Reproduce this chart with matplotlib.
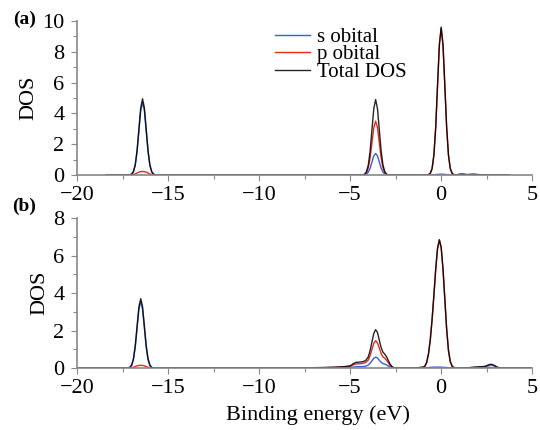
import numpy as np
import matplotlib
matplotlib.use('Agg')
import matplotlib.pyplot as plt
from matplotlib.ticker import MultipleLocator

plt.rcParams['font.family'] = ['Liberation Serif', 'DejaVu Serif']
plt.rcParams['mathtext.fontset'] = 'stix'

# ---- panel (a) ----
energy_a = [-18.4, -17.2,
            -17.1, -17.0, -16.9, -16.8, -16.7, -16.6, -16.5, -16.4, -16.3, -16.2, -16.1, -16.0, -15.9, -15.8, -15.7,
            -15.5, -4.5,
            -4.3, -4.2, -4.1, -4.0, -3.9, -3.8, -3.7, -3.6, -3.5, -3.4, -3.3, -3.2, -3.1, -3.0, -2.9,
            -2.7, -0.9,
            -0.7, -0.6, -0.5, -0.4, -0.3, -0.2, -0.1, 0.0, 0.1, 0.2, 0.3, 0.4, 0.5, 0.6, 0.7,
            0.85, 1.0, 1.2, 1.4, 1.6, 1.8, 2.0, 2.3, 3.75]
total_a = [0, 0,
           0.01, 0.06, 0.22, 0.67, 1.61, 3.0, 4.37, 4.95, 4.37, 3.0, 1.61, 0.67, 0.22, 0.06, 0.01,
           0, 0,
           0.01, 0.05, 0.22, 0.66, 1.59, 2.97, 4.32, 4.9, 4.32, 2.97, 1.59, 0.66, 0.22, 0.05, 0.01,
           0, 0,
           0.02, 0.11, 0.42, 1.3, 3.12, 5.83, 8.47, 9.6, 8.47, 5.83, 3.12, 1.3, 0.42, 0.11, 0.02,
           0.01, 0.05, 0.06, 0.03, 0.04, 0.05, 0.03, 0.01, 0]
s_a = [0, 0,
       0.01, 0.05, 0.21, 0.64, 1.53, 2.86, 4.17, 4.72, 4.17, 2.86, 1.53, 0.64, 0.21, 0.05, 0.01,
       0, 0,
       0.0, 0.02, 0.06, 0.19, 0.45, 0.85, 1.24, 1.4, 1.24, 0.85, 0.45, 0.19, 0.06, 0.02, 0.0,
       0, 0,
       0, 0, 0.01, 0.02, 0.03, 0.04, 0.05, 0.05, 0.05, 0.04, 0.03, 0.02, 0.01, 0, 0,
       0.01, 0.04, 0.05, 0.02, 0.03, 0.04, 0.02, 0.01, 0]
p_a = [0, 0,
       0.0, 0.01, 0.03, 0.07, 0.13, 0.19, 0.22, 0.23, 0.22, 0.19, 0.13, 0.07, 0.03, 0.01, 0.0,
       0, 0,
       0.01, 0.04, 0.15, 0.47, 1.14, 2.12, 3.09, 3.5, 3.09, 2.12, 1.14, 0.47, 0.15, 0.04, 0.01,
       0, 0,
       0.02, 0.1, 0.41, 1.28, 3.09, 5.79, 8.42, 9.55, 8.42, 5.79, 3.09, 1.28, 0.41, 0.1, 0.02,
       0.0, 0.01, 0.01, 0.01, 0.01, 0.01, 0.01, 0, 0]

# ---- panel (b) ----
energy_b = [-20.0, -17.3,
            -17.2, -17.1, -17.0, -16.9, -16.8, -16.7, -16.6, -16.5, -16.4, -16.3, -16.2, -16.1, -16.0, -15.9, -15.8,
            -15.6, -8.0, -7.5, -6.5, -5.8, -5.3, -5.0, -4.85, -4.7, -4.5, -4.3, -4.15, -4.0, -3.9, -3.8, -3.7,
            -3.6, -3.5, -3.4, -3.3, -3.2, -3.1, -3.0, -2.9, -2.8, -2.7, -2.6, -2.4,
            -1.6, -1.3, -1.0, -0.9, -0.8, -0.7, -0.6, -0.5, -0.4, -0.3, -0.2, -0.1, 0.0, 0.1, 0.2, 0.3, 0.4,
            0.5, 0.6, 0.7, 0.9,
            1.5, 1.8, 2.1, 2.4, 2.6, 2.7, 2.8, 2.95, 3.1, 3.3, 3.6, 5.0]
total_b = [0, 0,
           0.01, 0.04, 0.16, 0.5, 1.2, 2.25, 3.27, 3.7, 3.27, 2.25, 1.2, 0.5, 0.16, 0.04, 0.01,
           0, 0, 0.01, 0.03, 0.05, 0.08, 0.12, 0.22, 0.3, 0.32, 0.34, 0.4, 0.6, 0.95, 1.4, 1.85,
           2.05, 1.9, 1.5, 1.1, 0.85, 0.75, 0.6, 0.4, 0.2, 0.08, 0.02, 0,
           0, 0.02, 0.05, 0.1, 0.3, 0.75, 1.5, 2.6, 3.9, 5.3, 6.4, 6.85, 6.45, 5.3, 3.7, 2.1, 0.95,
           0.35, 0.1, 0.03, 0,
           0.02, 0.05, 0.07, 0.09, 0.17, 0.2, 0.19, 0.12, 0.04, 0.01, 0, 0]
s_b = [0, 0,
       0.01, 0.03, 0.14, 0.46, 1.12, 2.13, 3.13, 3.55, 3.13, 2.13, 1.12, 0.46, 0.14, 0.03, 0.01,
       0, 0, 0, 0.01, 0.01, 0.02, 0.03, 0.05, 0.07, 0.08, 0.08, 0.1, 0.16, 0.26, 0.39, 0.52,
       0.58, 0.54, 0.42, 0.31, 0.24, 0.21, 0.17, 0.11, 0.06, 0.02, 0, 0,
       0, 0.01, 0.01, 0.01, 0.02, 0.03, 0.04, 0.04, 0.05, 0.05, 0.05, 0.05, 0.05, 0.04, 0.04, 0.03, 0.02,
       0.01, 0.01, 0, 0,
       0.01, 0.03, 0.04, 0.06, 0.13, 0.17, 0.16, 0.1, 0.03, 0, 0, 0]
p_b = [0, 0,
       0, 0.01, 0.02, 0.04, 0.08, 0.12, 0.14, 0.15, 0.14, 0.12, 0.08, 0.04, 0.02, 0.01, 0,
       0, 0, 0.01, 0.02, 0.04, 0.06, 0.09, 0.16, 0.22, 0.23, 0.25, 0.3, 0.43, 0.68, 1.0, 1.32,
       1.46, 1.35, 1.07, 0.78, 0.6, 0.53, 0.42, 0.28, 0.14, 0.05, 0.01, 0,
       0, 0.01, 0.04, 0.09, 0.28, 0.72, 1.46, 2.55, 3.85, 5.24, 6.34, 6.8, 6.4, 5.25, 3.66, 2.07, 0.93,
       0.34, 0.09, 0.02, 0,
       0.01, 0.02, 0.03, 0.03, 0.04, 0.03, 0.03, 0.02, 0.01, 0, 0, 0]

blue = '#3b5fcf'
red = '#e8291c'
axcol = '#888888'

fig = plt.figure(figsize=(5.4, 4.3), dpi=100)
ax1 = fig.add_axes([0.1426, 0.593, 0.843, 0.358])
ax2 = fig.add_axes([0.1426, 0.144, 0.843, 0.349])

def style(ax, ymax):
    ax.set_xlim(-20, 5)
    ax.set_ylim(0, ymax)
    ax.xaxis.set_major_locator(MultipleLocator(5))
    ax.xaxis.set_minor_locator(MultipleLocator(2.5))
    ax.yaxis.set_major_locator(MultipleLocator(2))
    ax.yaxis.set_minor_locator(MultipleLocator(1))
    for sp in ['top', 'right']:
        ax.spines[sp].set_visible(False)
    for sp in ['left', 'bottom']:
        ax.spines[sp].set_color(axcol)
        ax.spines[sp].set_linewidth(1.2)
    ax.tick_params(which='major', direction='out', length=4, width=0.8, color=axcol,
                   labelsize=16)
    ax.tick_params(which='minor', direction='out', length=3, width=0.8, color=axcol)
    ax.tick_params(axis='x', which='major', pad=4)
    ax.tick_params(axis='y', which='major', pad=5)
    ax.set_ylabel('DOS', fontsize=16, labelpad=3)

# panel (a): partial DOS under, total on top
l_p, = ax1.plot(energy_a, p_a, color=red, lw=1.0, label='p obital')
l_s, = ax1.plot(energy_a, s_a, color=blue, lw=1.0, label='s obital')
l_tot, = ax1.plot(energy_a, total_a, color='black', lw=1.0, alpha=0.85, label='Total DOS')
style(ax1, 10)
ax1.legend(handles=[l_s, l_p, l_tot], loc='upper left', bbox_to_anchor=(0.435, 0.96),
           frameon=False, fontsize=15, handlelength=1.7, handletextpad=0.3,
           labelspacing=-0.1, borderpad=0, borderaxespad=0)

# panel (b)
ax2.plot(energy_b, p_b, color=red, lw=1.0)
ax2.plot(energy_b, s_b, color=blue, lw=1.0)
ax2.plot(energy_b, total_b, color='black', lw=1.0, alpha=0.85)
style(ax2, 8)
ax2.set_xlabel('Binding energy (eV)', fontsize=16, labelpad=5)
ax2.xaxis.label.set_x(0.53)

fig.text(0.045, 0.955, '(a)', fontsize=14, fontweight='bold', ha='center', va='center')
fig.text(0.045, 0.52, '(b)', fontsize=14, fontweight='bold', ha='center', va='center')

fig.savefig('out.png', dpi=100)
